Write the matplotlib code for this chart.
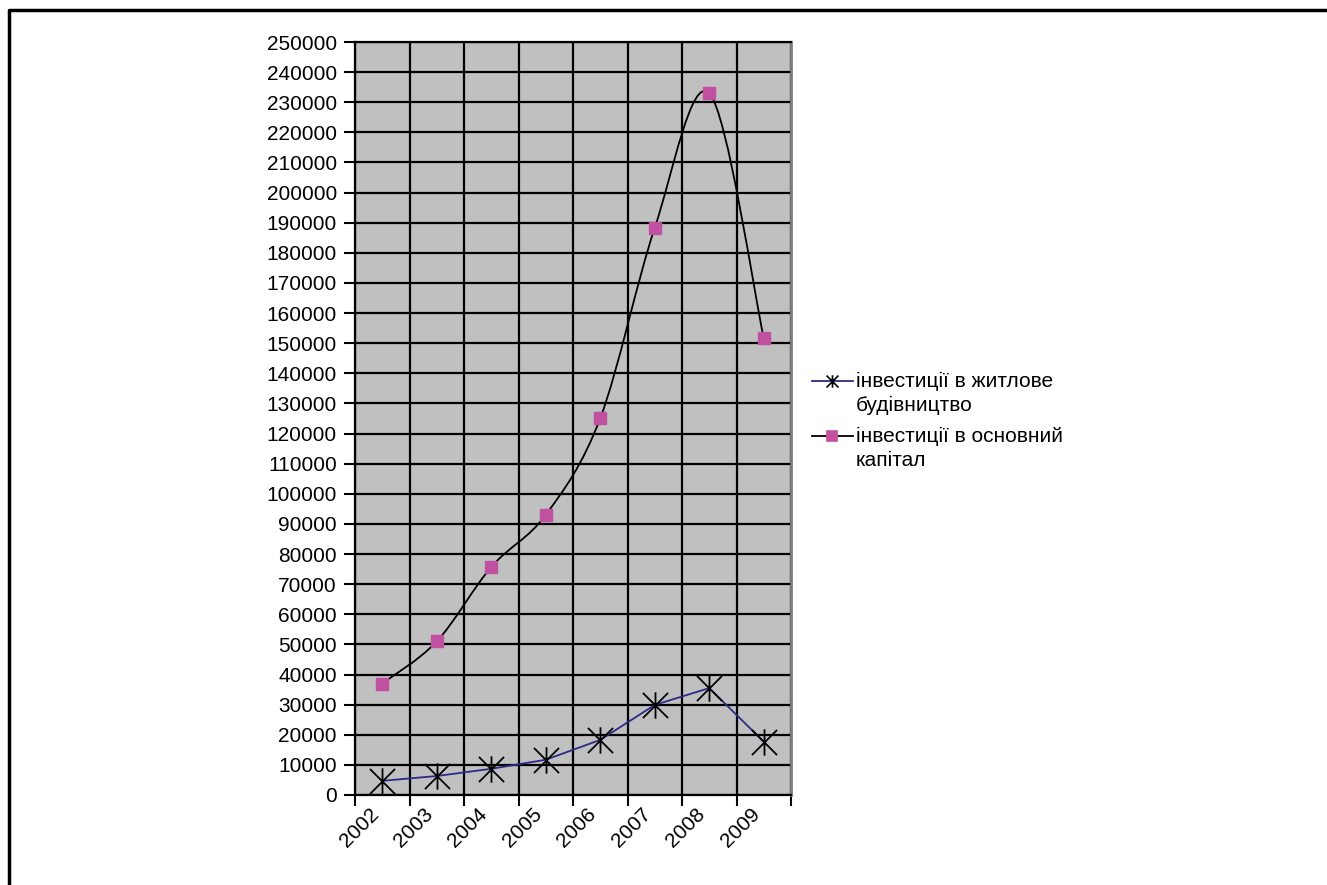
import numpy as np
import matplotlib
matplotlib.use("Agg")
import matplotlib.pyplot as plt
from matplotlib.path import Path
from matplotlib.patches import PathPatch
from matplotlib.lines import Line2D

plt.rcParams['font.family'] = ['Liberation Sans', 'DejaVu Sans']

years = ['2002', '2003', '2004', '2005', '2006', '2007', '2008', '2009']
housing = [4700, 6300, 8700, 11700, 18300, 29900, 35500, 17700]
capital = [37000, 51000, 75700, 93000, 125100, 188300, 233000, 151700]
label_housing = 'інвестиції в житлове\nбудівництво'
label_capital = 'інвестиції в основний\nкапітал'


def smooth_path(xs, ys):
    # bezier through the points, like the spreadsheet "smoothed line"
    pts = np.column_stack([xs, ys]).astype(float)
    n = len(pts)
    verts = [pts[0]]
    codes = [Path.MOVETO]
    for i in range(n - 1):
        p0 = pts[i - 1] if i > 0 else pts[i]
        p1 = pts[i]
        p2 = pts[i + 1]
        p3 = pts[i + 2] if i + 2 < n else pts[i + 1]
        c1 = p1 + (p2 - p0) / 6.0
        c2 = p2 - (p3 - p1) / 6.0
        verts += [c1, c2, p2]
        codes += [Path.CURVE4] * 3
    return Path(verts, codes)


W, H = 1327, 885
FS = 15
fig = plt.figure(figsize=(W / 100, H / 100), dpi=100)
ax = fig.add_axes([355 / W, 1 - 795 / H, (791 - 355) / W, (795 - 42) / H])
ax.set_facecolor('#c0c0c0')

xc = np.arange(len(years)) + 0.5
ax.set_xlim(0, len(years))
ax.set_ylim(0, 250000)

ax.set_yticks(np.arange(0, 250001, 10000))
ax.set_yticklabels([str(v) for v in range(0, 250001, 10000)])
ax.set_xticks(np.arange(0, len(years) + 1))
ax.set_xticklabels([])
ax.set_xticks(xc, minor=True)
ax.set_xticklabels(years, minor=True, rotation=45, ha='right', va='top')
ax.tick_params(axis='x', which='minor', length=0, pad=7, labelsize=FS)
ax.tick_params(axis='x', which='major', length=8, width=1.5, direction='out')
ax.tick_params(axis='y', length=8, width=1.5, direction='out', labelsize=FS, pad=5)
ax.grid(True, which='major', color='black', lw=1.6)
ax.set_axisbelow(True)

for s in ['left', 'bottom', 'top']:
    ax.spines[s].set_color('black')
    ax.spines[s].set_linewidth(1.6)
ax.spines['right'].set_color('#808080')
ax.spines['right'].set_linewidth(2)

# capital curve smoothed in screen-like coordinates
sx = 54.5
sy = 753 / 250000.0
p = smooth_path(xc * sx, np.array(capital) * sy)
v = p.vertices.copy()
v[:, 0] /= sx
v[:, 1] /= sy
ax.add_patch(PathPatch(Path(v, p.codes), fill=False, edgecolor='black', lw=1.3, zorder=3))
ax.plot(xc, housing, color='#2b2b86', lw=1.3, zorder=3)

star = Path([(-1, -1), (1, 1), (-1, 1), (1, -1), (0, -1.05), (0, 1.05)],
            [Path.MOVETO, Path.LINETO, Path.MOVETO, Path.LINETO, Path.MOVETO, Path.LINETO])
ax.plot(xc, housing, ls='none', marker=star, ms=19, mec='black', mew=1.3, zorder=4)
ax.plot(xc, capital, ls='none', marker='s', ms=8, mfc='#c050a0', mec='#c050a0', zorder=4)


# legend drawn by hand so the key sits on the first text line
def fx(px):
    return px / W


def fy(py):
    return 1 - py / H


for ypx, col, mk, ms, mfc, mec, lab in [(381, '#2b2b86', star, 9, 'none', 'black', label_housing),
                                        (436, 'black', 's', 7, '#c050a0', '#c050a0', label_capital)]:
    fig.add_artist(Line2D([fx(812), fx(853)], [fy(ypx), fy(ypx)], color=col, lw=1.3,
                          transform=fig.transFigure))
    fig.add_artist(Line2D([fx(832)], [fy(ypx)], marker=mk, ms=ms, mfc=mfc, mec=mec,
                          mew=1.2, ls='none', transform=fig.transFigure))
    fig.text(fx(856), fy(ypx - 9), lab, fontsize=FS, va='top', ha='left',
             linespacing=1.35)

# outer frame
fig.add_artist(Line2D([fx(9), fx(9), fx(1330)], [fy(890), fy(10), fy(10)], color='black',
                      lw=2.5, transform=fig.transFigure))

fig.savefig('out.png', dpi=100)
